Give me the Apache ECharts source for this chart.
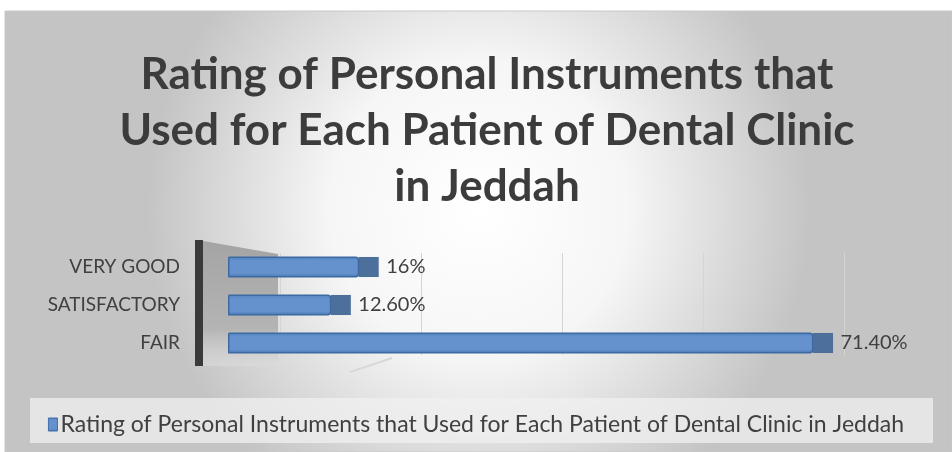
<!DOCTYPE html>
<html><head><meta charset="utf-8">
<script src="https://cdn.jsdelivr.net/npm/echarts@6/dist/echarts.min.js"></script>
<style>html,body{margin:0;padding:0;background:#fff}#c{width:952px;height:452px}</style>
</head><body><div id="c"></div>
<script>
const categories = ['FAIR', 'SATISFACTORY', 'VERY GOOD'];
const values = [71.4, 12.6, 16];
const valueLabels = ['71.40%', '12.60%', '16%'];
const seriesName = 'Rating of Personal Instruments that Used for Each Patient of Dental Clinic in Jeddah';
const titleText = 'Rating of Personal Instruments that\nUsed for Each Patient of Dental Clinic\nin Jeddah';

const chart = echarts.init(document.getElementById('c'), null, {renderer: 'canvas'});
const font = 'Lato, "Open Sans", sans-serif';
chart.setOption({
  animation: false,
  graphic: [
    {type: 'rect', z: -10, shape: {x: 5, y: 11, width: 947, height: 441},
     style: {fill: new echarts.graphic.RadialGradient(0.5, 0.45, 0.75, [
       {offset: 0, color: '#ffffff'}, {offset: 0.45, color: '#f6f6f6'}, {offset: 1, color: '#c4c4c4'}]),
       stroke: '#c8c8c8', lineWidth: 1}},
    {type: 'polygon', z: -5, shape: {points: [[203, 241], [278, 254], [278, 366], [203, 366]]},
     style: {fill: new echarts.graphic.LinearGradient(0, 0, 0, 1, [
       {offset: 0, color: '#a4a4a4'}, {offset: 0.7, color: '#b4b4b4'}, {offset: 1, color: 'rgba(220,220,220,0.6)'}])}},
    {type: 'rect', z: -4, shape: {x: 195, y: 240, width: 8, height: 126}, style: {fill: '#3a3a3a'}},
    {type: 'rect', z: -6, shape: {x: 30, y: 398, width: 903, height: 45}, style: {fill: 'rgba(240,240,240,0.75)'}},
    {type: 'line', z: -6, shape: {x1: 350, y1: 372, x2: 392, y2: 358}, style: {stroke: '#d8d8d8', lineWidth: 2}}
  ],
  title: {
    text: titleText, left: 482, textAlign: 'center', top: 42,
    textStyle: {fontFamily: font, fontWeight: 'bold', fontSize: 44, lineHeight: 56, color: '#3c3c3c'}
  },
  legend: {
    show: true, data: [seriesName], left: 'center', top: 408, itemWidth: 9, itemHeight: 13, itemGap: 4,
    icon: 'rect',
    textStyle: {fontFamily: font, fontSize: 23, color: '#404040', padding: [0, 0, 0, -2]},
    itemStyle: {borderColor: '#3f6faa', borderWidth: 1}
  },
  grid: [
    {left: 228, width: 656, top: 248, height: 114},
    {left: 280, width: 564, top: 253, height: 102}
  ],
  xAxis: [
    {type: 'value', gridIndex: 0, min: 0, max: 80, interval: 20, show: true,
     axisLabel: {show: false}, axisLine: {show: false}, axisTick: {show: false}, splitLine: {show: false}},
    {type: 'value', gridIndex: 1, min: 0, max: 80, interval: 20,
     axisLabel: {show: false}, axisLine: {show: false}, axisTick: {show: false},
     splitLine: {show: true, lineStyle: {color: '#d4d4d4', width: 1}}}
  ],
  yAxis: [
    {type: 'category', gridIndex: 0, data: categories, axisLine: {show: false}, axisTick: {show: false},
     axisLabel: {fontFamily: font, fontSize: 19, color: '#404040', margin: 48}},
    {type: 'category', gridIndex: 1, data: categories, show: false}
  ],
  series: [
    {type: 'bar', name: seriesName, xAxisIndex: 0, yAxisIndex: 0, data: values, barWidth: 21,
     itemStyle: {color: new echarts.graphic.LinearGradient(0, 0, 0, 1, [
       {offset: 0, color: '#4f7fbd'}, {offset: 0.2, color: '#6592cc'}, {offset: 0.8, color: '#6592cc'}, {offset: 1, color: '#4775b0'}]),
       borderColor: '#3d6aa3', borderWidth: 1.5, borderRadius: [0, 3, 3, 0]},
     label: {show: true, position: 'right', distance: 27, fontFamily: font, fontSize: 20, color: '#404040',
       formatter: p => valueLabels[p.dataIndex]}},
    {type: 'pictorialBar', name: 'cap', xAxisIndex: 0, yAxisIndex: 0, data: values, symbol: 'rect',
     symbolPosition: 'end', symbolSize: [20, 20], symbolOffset: [20, 0], z: 3,
     itemStyle: {color: '#4d6f9c', borderColor: '#3d5f8c', borderWidth: 1}, label: {show: false}, legendHoverLink: false}
  ]
});
</script></body></html>
